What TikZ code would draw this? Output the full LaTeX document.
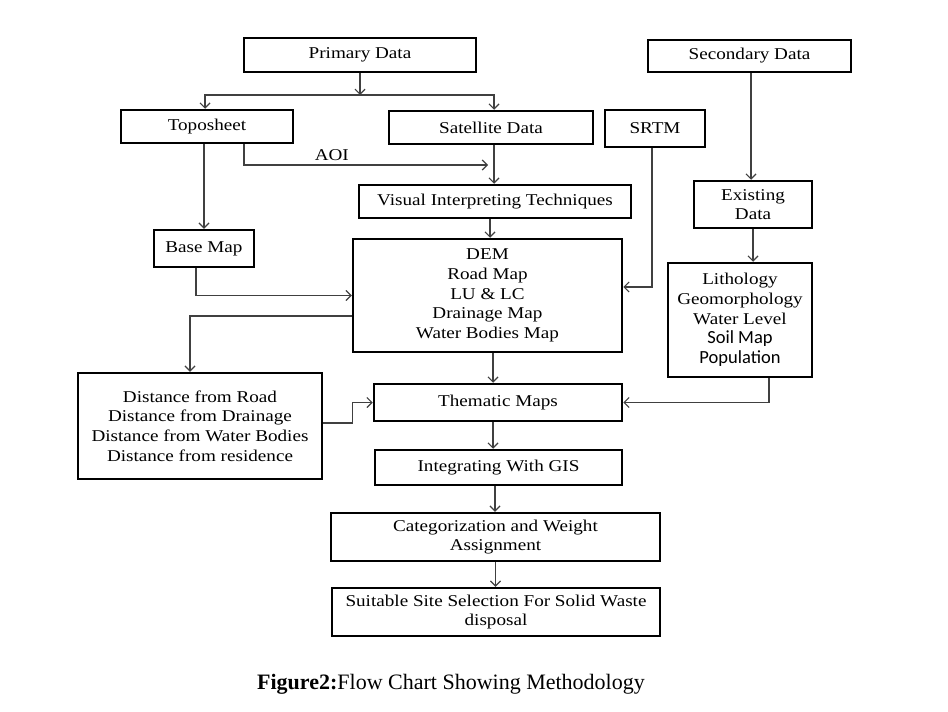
\documentclass[tikz,border=0pt]{standalone}
\usepackage{fontspec}
\setmainfont{Liberation Serif}[FakeStretch=1.16]
\newfontfamily\capfont{Liberation Serif}
\newfontfamily\calfont{Carlito}
\usetikzlibrary{positioning, arrows.meta}

\begin{document}
\begin{tikzpicture}[x=1pt, y=-1pt,
    flowbox/.style={draw, line width=2.5pt, align=center, inner sep=2pt, font=\fontsize{16.5}{19.7}\selectfont},
    link/.style={draw=black!75, line width=1.2pt, -{Straight Barb[length=5pt,width=10pt]}}
  ]
  \useasboundingbox (0,0) rectangle (948,712);

  % boxes
  \node[flowbox, minimum width=232pt, minimum height=34pt] at (360,55) (primary) {Primary Data};
  \node[flowbox, minimum width=203pt, minimum height=32pt] at (749.5,56) (secondary) {Secondary Data};
  \node[flowbox, minimum width=172pt, minimum height=33pt] at (207,126.5) (topo) {Toposheet};
  \node[flowbox, minimum width=204pt, minimum height=33pt] at (491,127.5) (satellite) {Satellite Data};
  \node[flowbox, minimum width=100pt, minimum height=37pt] at (655,128.5) (srtm) {SRTM};
  \node[flowbox, minimum width=118pt, minimum height=47pt] at (753,204.5) (existing) {Existing\\Data};
  \node[flowbox, minimum width=272pt, minimum height=33pt] at (495,201.5) (visual) {Visual Interpreting Techniques};
  \node[flowbox, minimum width=100pt, minimum height=37pt] at (204,248.5) (basemap) {Base Map};
  \node[flowbox, minimum width=269pt, minimum height=113pt] at (487.5,295.5) (dem) {
    DEM\\
    Road Map\\
    LU \& LC\\
    Drainage Map\\
    Water Bodies Map
  };
  \node[flowbox, minimum width=144pt, minimum height=114pt] at (740,320) (litho) {
    Lithology\\
    Geomorphology\\
    Water Level\\
    {\calfont\fontsize{18.5}{21}\selectfont Soil Map}\\
    {\calfont\fontsize{18.5}{21}\selectfont Population}
  };
  \node[flowbox, minimum width=244pt, minimum height=106pt] at (200,426) (distance) {
    Distance from Road\\
    Distance from Drainage\\
    Distance from Water Bodies\\
    Distance from residence
  };
  \node[flowbox, minimum width=248pt, minimum height=37pt] at (498,402.5) (thematic) {Thematic Maps};
  \node[flowbox, minimum width=247pt, minimum height=35pt] at (498.5,467.5) (gis) {Integrating With GIS};
  \node[flowbox, minimum width=329pt, minimum height=48pt] at (495.5,537) (categ) {Categorization and Weight\\Assignment};
  \node[flowbox, minimum width=328pt, minimum height=48pt] at (496,612) (suitable) {Suitable Site Selection For Solid Waste\\disposal};

  \node[font=\capfont\fontsize{22}{26}\selectfont] at (451,684) (caption) {\textbf{Figure2:}Flow Chart Showing Methodology};

  % connectors
  \coordinate (fork) at (360,95);
  \coordinate (aoiend) at (488,165);
  \draw[link] (primary) -- (fork);
  \draw[link] (fork) -| ([xshift=-2pt]topo.north);
  \draw[link] (fork) -| ([xshift=3pt]satellite.north);
  \draw[link] ([xshift=37pt]topo.south) |- node[pos=0.68, above, font=\fontsize{16.5}{19.7}\selectfont] {AOI} (aoiend);
  \draw[link] ([xshift=3pt]satellite.south) -- ([xshift=-1pt]visual.north);
  \draw[link] (basemap.north |- topo.south) -- (basemap.north);
  \draw[link] ([xshift=-8pt]basemap.south) |- (dem.west);
  \draw[link] ([xshift=-5pt]visual.south) -- ([xshift=2.5pt]dem.north);
  \draw[link] ([xshift=-3pt]srtm.south) |- ([yshift=8.5pt]dem.east);
  \draw[link] ([xshift=1.5pt]secondary.south) -- ([xshift=-2pt]existing.north);
  \draw[link] (existing.south) -- (existing.south |- litho.north);
  \draw[link] ([yshift=-20.5pt]dem.west) -| ([xshift=-10pt]distance.north);
  \draw[link] ([xshift=5.5pt]dem.south) -- ([xshift=-5pt]thematic.north);
  \draw[link] ([yshift=3pt]distance.east) -- ++(29,0) |- (thematic.west);
  \draw[link] ([xshift=29pt]litho.south) |- (thematic.east);
  \draw[link] ([xshift=-5pt]thematic.south) -- ([xshift=-5.5pt]gis.north);
  \draw[link] ([xshift=-3.5pt]gis.south) -- ([xshift=-0.5pt]categ.north);
  \draw[link] (categ.south) -- (categ.south |- suitable.north);
\end{tikzpicture}
\end{document}
